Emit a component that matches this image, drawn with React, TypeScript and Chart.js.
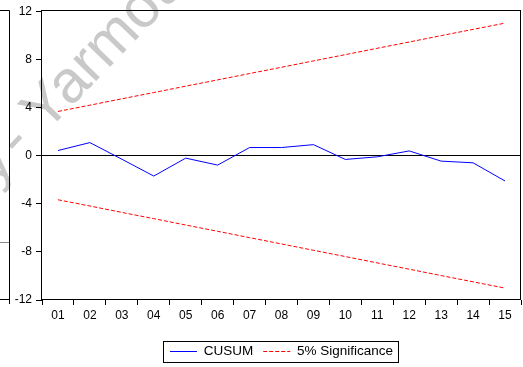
import React, { useEffect, useRef } from "react";
import { Chart, registerables } from "chart.js";

Chart.register(...registerables);

const periods = ["01", "02", "03", "04", "05", "06", "07", "08", "09", "10", "11", "12", "13", "14", "15"];
const cusum = [0.42, 1.08, -0.3, -1.7, -0.21, -0.79, 0.67, 0.67, 0.91, -0.32, -0.1, 0.39, -0.46, -0.6, -2.11];
const upper5 = [3.67, 4.19, 4.72, 5.24, 5.77, 6.29, 6.82, 7.34, 7.87, 8.39, 8.92, 9.44, 9.97, 10.49, 11.01];
const lower5 = [-3.67, -4.19, -4.72, -5.24, -5.77, -6.29, -6.82, -7.34, -7.87, -8.39, -8.92, -9.44, -9.97, -10.49, -11.01];
const yMin = -12;
const yMax = 12;
const yStep = 4;
const seriesNames = ["CUSUM", "5% Significance"];

const FONT = "'Liberation Sans', Arial, Helvetica, sans-serif";

export default function App() {
  const ref = useRef<HTMLCanvasElement>(null);

  useEffect(() => {
    const canvas = ref.current;
    if (!canvas) return;

    const watermark = {
      id: "watermark",
      beforeDraw(chart: any) {
        const c = chart.ctx;
        c.save();
        c.translate(20, 160);
        c.rotate((-46 * Math.PI) / 180);
        c.font = "60px " + FONT;
        c.fillStyle = "#c9c9c9";
        c.textBaseline = "alphabetic";
        c.textAlign = "left";
        c.fillText("- Yarmouk University", 0, 0);
        c.textAlign = "right";
        c.fillText("Library", -6, 0);
        c.restore();
        // fragment of the neighbouring frame at the left edge
        c.save();
        c.strokeStyle = "#000";
        c.lineWidth = 1;
        c.beginPath();
        c.moveTo(9.5, 10.5);
        c.lineTo(9.5, 304);
        c.moveTo(0, 10.5);
        c.lineTo(9.5, 10.5);
        c.moveTo(0, 299.5);
        c.lineTo(9.5, 299.5);
        c.stroke();
        c.strokeStyle = "#8a8a8a";
        c.beginPath();
        c.moveTo(0, 242.5);
        c.lineTo(9, 242.5);
        c.stroke();
        c.restore();
      },
    };

    const legendShift = {
      id: "legendShift",
      afterLayout(chart: any) {
        const lg = chart.legend;
        if (lg) lg.left = chart.chartArea.left;
      },
    };

    const frames = {
      id: "frames",
      afterDraw(chart: any) {
        const c = chart.ctx;
        const a = chart.chartArea;
        c.save();
        c.strokeStyle = "#000";
        c.lineWidth = 1;
        c.setLineDash([]);
        c.strokeRect(Math.round(a.left) - 0.5, Math.round(a.top) - 0.5, Math.round(a.right - a.left), Math.round(a.bottom - a.top));
        const hb = chart.legend && chart.legend.legendHitBoxes;
        if (hb && hb.length) {
          const l = Math.min(...hb.map((h: any) => h.left));
          const r = Math.max(...hb.map((h: any) => h.left + h.width));
          const t = hb[0].top;
          const h = hb[0].height;
          const x0 = Math.round(l - 7) + 0.5;
          const y0 = Math.round(t - 4) + 0.5;
          c.strokeRect(x0, y0, Math.round(r + 5) - Math.round(l - 7), Math.round(h + 7));
        }
        c.restore();
      },
    };

    const chart = new Chart(canvas, {
      type: "line",
      data: {
        labels: periods,
        datasets: [
          {
            label: seriesNames[0],
            data: cusum,
            borderColor: "#0000ff",
            backgroundColor: "#0000ff",
            borderWidth: 1,
            pointRadius: 0,
            tension: 0,
          },
          {
            label: seriesNames[1],
            data: upper5,
            borderColor: "#ff0000",
            backgroundColor: "#ff0000",
            borderWidth: 1,
            borderDash: [4, 2],
            pointRadius: 0,
            tension: 0,
          },
          {
            label: seriesNames[1] + " (lower)",
            data: lower5,
            borderColor: "#ff0000",
            backgroundColor: "#ff0000",
            borderWidth: 1,
            borderDash: [4, 2],
            pointRadius: 0,
            tension: 0,
          },
        ],
      },
      options: {
        responsive: false,
        animation: false,
        devicePixelRatio: 1,
        layout: { padding: { left: 0, right: 2, top: 9, bottom: 1.75 } },
        font: { family: FONT },
        scales: {
          x: {
            type: "category",
            offset: true,
            grid: {
              offset: true,
              drawOnChartArea: false,
              drawTicks: true,
              tickLength: 5,
              tickColor: "#000",
              color: "#000",
            },
            border: { display: false },
            ticks: {
              color: "#000",
              font: { size: 12, family: FONT },
              padding: 3,
              maxRotation: 0,
              autoSkip: false,
            },
            afterFit: (scale: any) => {
              scale.height = 34.75;
            },
          },
          y: {
            min: yMin,
            max: yMax,
            grid: {
              drawOnChartArea: true,
              drawTicks: true,
              tickLength: 6,
              tickColor: "#000",
              color: (ctx: any) => (ctx.tick && ctx.tick.value === 0 ? "#000" : "rgba(0,0,0,0)"),
            },
            border: { display: false },
            ticks: {
              stepSize: yStep,
              color: "#000",
              font: { size: 12, family: FONT },
              padding: 4,
            },
            afterFit: (scale: any) => {
              scale.width = 42;
            },
          },
        },
        plugins: {
          legend: {
            display: true,
            position: "bottom",
            align: "center",
            labels: {
              usePointStyle: true,
              pointStyle: "line",
              pointStyleWidth: 27,
              color: "#000",
              padding: 10,
              font: { size: 13.5, family: FONT },
              generateLabels: (ch: any) => {
                const items = (Chart as any).defaults.plugins.legend.labels.generateLabels(ch);
                items.forEach((it: any) => {
                  const ds = ch.data.datasets[it.datasetIndex];
                  it.lineDash = ds.borderDash || [];
                  it.lineWidth = 1;
                  it.strokeStyle = ds.borderColor;
                  it.pointStyle = "line";
                });
                return items;
              },
              filter: (item: any) => item.datasetIndex !== 2,
            },
          },
          tooltip: { enabled: false },
        },
      } as any,
      plugins: [watermark, legendShift, frames],
    });

    return () => chart.destroy();
  }, []);

  return (
    <div style={{ position: "fixed", left: 0, top: 0, width: 523, height: 370, background: "#fff" }}>
      <canvas ref={ref} width={523} height={370} style={{ display: "block", width: 523, height: 370 }} />
    </div>
  );
}
